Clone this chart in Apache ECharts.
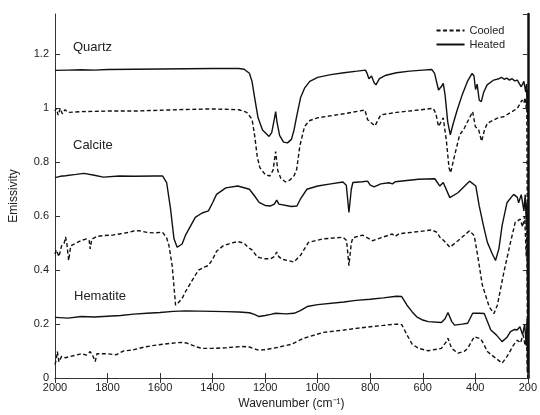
<!DOCTYPE html>
<html>
<head>
<meta charset="utf-8">
<script src="https://cdn.jsdelivr.net/npm/echarts@6/dist/echarts.min.js"></script>
<style>
  html, body { margin: 0; padding: 0; background: #fff; }
  #chart { width: 540px; height: 415px; }
</style>
</head>
<body>
<div id="chart"></div>
<script>
// [wavenumber cm-1, emissivity]
var quartzHeated = [
  [2000, 1.141], [1950, 1.142], [1900, 1.143], [1850, 1.142], [1800, 1.144], [1700, 1.145], [1600, 1.146],
  [1500, 1.147], [1400, 1.148], [1300, 1.148], [1280, 1.145], [1260, 1.13], [1250, 1.10], [1240, 1.04],
  [1227, 0.965], [1210, 0.92], [1185, 0.896], [1175, 0.91], [1165, 0.96], [1160, 0.988], [1155, 0.95],
  [1145, 0.90], [1130, 0.875], [1115, 0.872], [1100, 0.885], [1090, 0.92], [1080, 0.97], [1065, 1.04],
  [1050, 1.075], [1030, 1.10], [1000, 1.115], [950, 1.125], [900, 1.132], [850, 1.138], [818, 1.142],
  [812, 1.13], [805, 1.11], [795, 1.12], [785, 1.095], [778, 1.087], [765, 1.11], [740, 1.123],
  [700, 1.132], [650, 1.138], [600, 1.142], [565, 1.144], [555, 1.13], [540, 1.068], [530, 1.08],
  [522, 1.093], [515, 1.05], [505, 0.95], [495, 0.902], [485, 0.94], [470, 0.99], [450, 1.05],
  [430, 1.10], [412, 1.13], [405, 1.12], [399, 1.07], [393, 1.09], [385, 1.03], [377, 1.025],
  [368, 1.06], [355, 1.087], [330, 1.105], [310, 1.11], [300, 1.115], [290, 1.108], [280, 1.112],
  [270, 1.105], [260, 1.11], [250, 1.102], [240, 1.105], [225, 1.08], [215, 1.10], [208, 1.06],
  [205, 1.09], [203, 1.0], [201, 1.07], [200, 0.95]
];
var quartzCooled = [
  [2000, 0.99], [1995, 1.0], [1988, 0.975], [1980, 1.0], [1972, 0.98], [1962, 0.995], [1950, 0.985],
  [1900, 0.988], [1800, 0.99], [1700, 0.99], [1600, 0.993], [1500, 0.996], [1400, 0.998], [1300, 0.995],
  [1270, 0.985], [1250, 0.96], [1240, 0.90], [1230, 0.82], [1220, 0.78], [1200, 0.755], [1183, 0.749],
  [1170, 0.77], [1160, 0.84], [1152, 0.77], [1140, 0.74], [1122, 0.727], [1105, 0.735], [1090, 0.75],
  [1080, 0.773], [1068, 0.86], [1050, 0.933], [1030, 0.955], [1000, 0.965], [900, 0.98], [820, 0.994],
  [810, 0.958], [800, 0.95], [782, 0.935], [760, 0.976], [700, 0.985], [616, 0.994], [560, 1.0],
  [550, 0.98], [540, 0.933], [522, 0.965], [510, 0.88], [500, 0.78], [494, 0.761], [480, 0.82],
  [460, 0.90], [441, 0.928], [410, 0.988], [400, 0.933], [387, 0.92], [376, 0.878], [365, 0.92],
  [354, 0.945], [316, 0.964], [290, 0.97], [260, 0.988], [240, 1.0], [222, 1.031], [215, 1.02],
  [210, 1.04], [206, 1.0], [204, 1.03], [202, 0.6], [201, 0.2], [200, 0.0]
];
var calciteHeated = [
  [2000, 0.743], [1980, 0.748], [1960, 0.75], [1920, 0.755], [1890, 0.759], [1850, 0.752], [1816, 0.745],
  [1754, 0.749], [1700, 0.748], [1620, 0.749], [1590, 0.749], [1575, 0.725], [1560, 0.626], [1547, 0.516],
  [1535, 0.485], [1516, 0.497], [1504, 0.528], [1466, 0.596], [1440, 0.612], [1416, 0.62], [1400, 0.65],
  [1385, 0.681], [1350, 0.705], [1304, 0.712], [1260, 0.70], [1240, 0.675], [1223, 0.651], [1200, 0.64],
  [1179, 0.638], [1165, 0.645], [1156, 0.66], [1148, 0.645], [1141, 0.638], [1100, 0.636], [1079, 0.638],
  [1066, 0.663], [1041, 0.70], [1000, 0.712], [950, 0.72], [904, 0.727], [891, 0.715], [881, 0.614],
  [872, 0.70], [866, 0.725], [830, 0.728], [810, 0.73], [800, 0.715], [785, 0.709], [760, 0.72],
  [729, 0.724], [715, 0.72], [705, 0.728], [616, 0.737], [554, 0.739], [535, 0.712], [522, 0.725],
  [497, 0.669], [466, 0.687], [422, 0.73], [398, 0.712], [385, 0.638], [370, 0.57], [354, 0.503],
  [335, 0.46], [323, 0.436], [310, 0.48], [298, 0.565], [279, 0.651], [254, 0.681], [240, 0.67],
  [235, 0.65], [225, 0.68], [215, 0.62], [210, 0.68], [205, 0.55], [203, 0.65], [201, 0.3], [200, 0.6]
];
var calciteCooled = [
  [2000, 0.46], [1995, 0.475], [1985, 0.45], [1975, 0.49], [1965, 0.50], [1960, 0.523], [1955, 0.50],
  [1948, 0.436], [1940, 0.49], [1920, 0.50], [1900, 0.51], [1880, 0.516], [1870, 0.51], [1866, 0.479],
  [1860, 0.515], [1840, 0.525], [1816, 0.528], [1780, 0.53], [1750, 0.535], [1720, 0.54], [1700, 0.545],
  [1679, 0.546], [1650, 0.54], [1620, 0.538], [1591, 0.541], [1575, 0.52], [1566, 0.49], [1554, 0.417],
  [1541, 0.27], [1530, 0.28], [1516, 0.295], [1504, 0.319], [1479, 0.36], [1454, 0.40], [1435, 0.41],
  [1416, 0.417], [1400, 0.44], [1385, 0.47], [1360, 0.49], [1330, 0.50], [1304, 0.506], [1280, 0.50],
  [1266, 0.485], [1250, 0.475], [1229, 0.448], [1200, 0.442], [1179, 0.442], [1165, 0.45], [1156, 0.467],
  [1148, 0.45], [1135, 0.44], [1110, 0.435], [1091, 0.43], [1066, 0.454], [1035, 0.503], [979, 0.516],
  [904, 0.522], [890, 0.51], [881, 0.417], [872, 0.50], [866, 0.52], [829, 0.53], [810, 0.52],
  [791, 0.509], [760, 0.52], [716, 0.534], [705, 0.525], [690, 0.535], [616, 0.543], [566, 0.549],
  [545, 0.54], [535, 0.522], [520, 0.51], [497, 0.485], [466, 0.509], [422, 0.546], [404, 0.528],
  [391, 0.454], [373, 0.344], [347, 0.264], [329, 0.239], [316, 0.27], [291, 0.393], [266, 0.503],
  [248, 0.577], [229, 0.589], [220, 0.56], [212, 0.6], [206, 0.45], [203, 0.55], [201, 0.1], [200, 0.4]
];
var hematiteHeated = [
  [2000, 0.225], [1950, 0.222], [1900, 0.228], [1850, 0.226], [1800, 0.229], [1750, 0.232], [1700, 0.237],
  [1650, 0.24], [1600, 0.243], [1550, 0.247], [1504, 0.249], [1450, 0.248], [1400, 0.247], [1350, 0.246],
  [1300, 0.245], [1260, 0.242], [1241, 0.236], [1223, 0.228], [1200, 0.232], [1179, 0.236], [1160, 0.24],
  [1120, 0.238], [1090, 0.24], [1066, 0.25], [1040, 0.265], [1000, 0.272], [900, 0.282], [854, 0.288],
  [800, 0.292], [750, 0.297], [700, 0.303], [680, 0.302], [660, 0.27], [640, 0.245], [623, 0.227],
  [600, 0.215], [579, 0.209], [529, 0.206], [515, 0.22], [504, 0.243], [490, 0.21], [479, 0.196],
  [450, 0.2], [429, 0.203], [410, 0.24], [404, 0.245], [385, 0.24], [366, 0.239], [350, 0.2],
  [341, 0.178], [320, 0.16], [298, 0.135], [280, 0.15], [266, 0.172], [250, 0.18], [241, 0.178],
  [230, 0.19], [220, 0.16], [212, 0.2], [206, 0.12], [203, 0.22], [201, 0.05], [200, 0.2]
];
var hematiteCooled = [
  [2000, 0.05], [1995, 0.07], [1991, 0.098], [1985, 0.06], [1975, 0.08], [1960, 0.075], [1941, 0.08],
  [1920, 0.085], [1900, 0.09], [1880, 0.085], [1866, 0.098], [1855, 0.08], [1847, 0.061], [1840, 0.09],
  [1800, 0.09], [1768, 0.086], [1740, 0.10], [1700, 0.105], [1660, 0.115], [1629, 0.12], [1590, 0.125],
  [1554, 0.129], [1520, 0.132], [1500, 0.13], [1460, 0.115], [1441, 0.11], [1400, 0.11], [1350, 0.112],
  [1291, 0.117], [1260, 0.115], [1229, 0.104], [1200, 0.105], [1160, 0.112], [1100, 0.125], [1054, 0.147],
  [979, 0.169], [900, 0.178], [854, 0.184], [800, 0.19], [750, 0.195], [704, 0.2], [680, 0.198],
  [660, 0.16], [640, 0.125], [616, 0.11], [579, 0.101], [529, 0.11], [510, 0.135], [504, 0.147],
  [490, 0.11], [466, 0.092], [440, 0.1], [429, 0.11], [404, 0.153], [379, 0.145], [365, 0.12],
  [354, 0.098], [323, 0.074], [298, 0.055], [279, 0.08], [254, 0.123], [240, 0.14], [228, 0.13],
  [218, 0.16], [210, 0.12], [205, 0.18], [202, 0.02], [200, 0.1]
];
var sampleLabels = [
  { text: 'Quartz', x: 73, y: 41 },
  { text: 'Calcite', x: 73, y: 139 },
  { text: 'Hematite', x: 74, y: 290 }
];

var font = '"Liberation Sans", Arial, sans-serif';
var ink = '#111';

function spectrum(name, data, dashed) {
  return {
    name: name,
    type: 'line',
    data: data,
    symbol: 'none',
    smooth: false,
    lineStyle: { color: ink, width: 1.4, type: dashed ? [4, 2.5] : 'solid' },
    itemStyle: { color: ink }
  };
}

function plainNumber(v) { return String(v); }

var chart = echarts.init(document.getElementById('chart'), null, { renderer: 'canvas' });
chart.setOption({
  animation: false,
  backgroundColor: '#fff',
  textStyle: { fontFamily: font },
  grid: { left: 51, right: 9, top: 14, bottom: 35 },
  legend: {
    data: ['Cooled', 'Heated'],
    orient: 'vertical',
    right: 30,
    top: 20,
    itemWidth: 28,
    itemHeight: 10,
    itemGap: 3,
    itemStyle: { opacity: 0 },
    textStyle: { fontFamily: font, fontSize: 11, color: '#222' }
  },
  xAxis: [{
    type: 'value', inverse: true, min: 200, max: 2000, interval: 200,
    name: 'Wavenumber (cm\u207B\u00B9)', nameLocation: 'middle', nameGap: 20,
    nameTextStyle: { fontFamily: font, fontSize: 12, color: '#222' },
    axisLine: { lineStyle: { color: '#333', width: 1 } },
    axisTick: { inside: true, length: 5, lineStyle: { color: '#333' } },
    axisLabel: { fontFamily: font, fontSize: 11, color: '#222', margin: 4, formatter: plainNumber },
    splitLine: { show: false }
  }, {
    type: 'value', inverse: true, min: 200, max: 2000, interval: 200, position: 'top',
    axisLine: { lineStyle: { color: '#333', width: 1 } },
    axisTick: { inside: true, length: 5, lineStyle: { color: '#333' } },
    axisLabel: { show: false },
    splitLine: { show: false }
  }],
  yAxis: [{
    type: 'value', min: 0, max: 1.35, interval: 0.2,
    name: 'Emissivity', nameLocation: 'middle', nameGap: 35,
    nameTextStyle: { fontFamily: font, fontSize: 12, color: '#222' },
    axisLine: { show: true, lineStyle: { color: '#333', width: 1 } },
    axisTick: { show: true, inside: true, length: 5, lineStyle: { color: '#333' } },
    axisLabel: { fontFamily: font, fontSize: 11, color: '#222', margin: 6,
      showMaxLabel: false, formatter: plainNumber },
    splitLine: { show: false }
  }, {
    type: 'value', min: 0, max: 1.35, interval: 0.2, position: 'right',
    axisLine: { show: true, lineStyle: { color: '#111', width: 2.5 } },
    axisTick: { show: true, inside: true, length: 5, lineStyle: { color: '#333' } },
    axisLabel: { show: false },
    splitLine: { show: false }
  }],
  graphic: sampleLabels.map(function(l) {
    return {
      type: 'text', left: l.x, top: l.y,
      style: { text: l.text, fontFamily: font, fontSize: 13, fill: '#222' }
    };
  }),
  series: [
    spectrum('Cooled', quartzCooled, true),
    spectrum('Heated', quartzHeated, false),
    spectrum('Cooled', calciteCooled, true),
    spectrum('Heated', calciteHeated, false),
    spectrum('Cooled', hematiteCooled, true),
    spectrum('Heated', hematiteHeated, false)
  ]
});

window.addEventListener('resize', function() { chart.resize(); });
</script>
</body>
</html>
